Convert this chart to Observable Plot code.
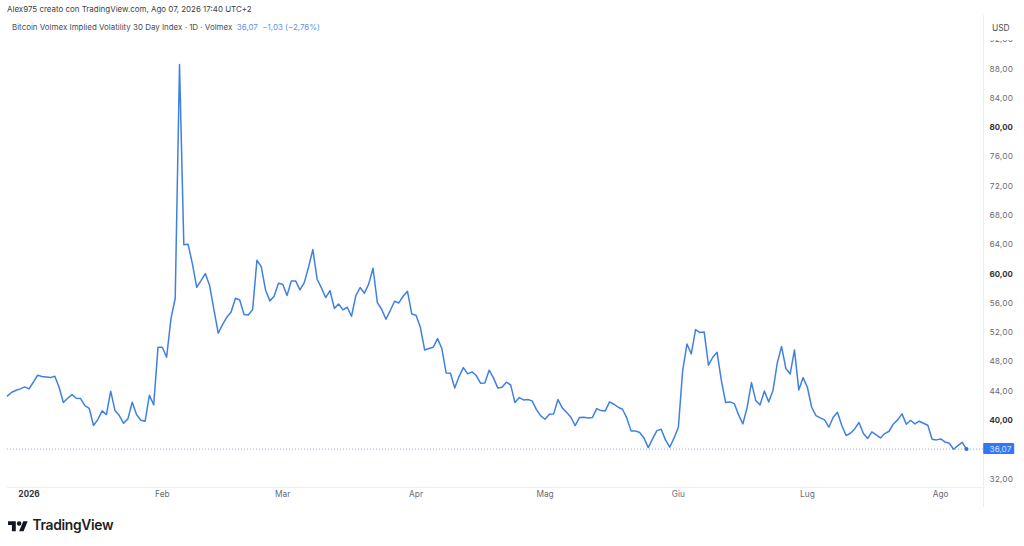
<!DOCTYPE html>
<html>
<head>
<meta charset="utf-8">
<script src="https://cdn.jsdelivr.net/npm/d3@7"></script>
<script src="https://cdn.jsdelivr.net/npm/@observablehq/plot@0.6"></script>
<style>
html,body{margin:0;padding:0;background:#fff;width:1024px;height:546px;overflow:hidden;font-family:Inter,"Noto Sans",sans-serif}
#chart{position:absolute;left:0;top:0}
.t{position:absolute;white-space:nowrap;line-height:1}
</style>
</head>
<body>
<div id="chart"></div>
<div class="t" style="left:7px;top:6px;font-size:7.95px;color:#3d3f47">Alex975 creato con TradingView.com, Ago 07, 2026 17:40 UTC+2</div>
<div class="t" style="left:12px;top:24px;font-size:7.95px;color:#4a4d57">Bitcoin Volmex Implied Volatility 30 Day Index · 1D · Volmex<span style="color:#5b93ea;margin-left:4.5px">36,07</span><span style="color:#5b93ea;margin-left:4.5px">−1,03 (−2,76%)</span></div>
<div class="t" style="left:984px;top:15px;width:40px;height:24.5px;background:#fff"><span class="t" style="left:8px;top:9px;font-size:8.4px;color:#4a4d57">USD</span></div>
<svg class="t" style="left:8px;top:518.5px" width="20" height="15.5" viewBox="0 0 36 28"><path fill="#131722" d="M14 22H7V11H0V4h14v18zM28 22h-8l7.5-18h8L28 22z"/><circle fill="#131722" cx="20" cy="8" r="4"/></svg>
<div class="t" style="left:32.5px;top:519px;font-size:13.8px;font-weight:600;letter-spacing:-0.3px;color:#1c1e26">TradingView</div>
<script>
const startDate = new Date(Date.UTC(2025, 11, 27));
const closes = [
43.34,43.84,44.11,44.30,44.57,44.30,45.20,46.16,45.98,45.93,45.84,46.03,44.52,42.43,43.02,43.52,43.02,42.97,42.02,41.65,
39.29,40.10,41.29,40.79,43.98,41.33,40.65,39.60,40.20,42.47,40.79,40.01,39.88,43.43,42.11,49.99,49.99,48.62,53.86,56.68,
88.60,64.00,64.05,61.37,58.18,59.09,60.05,58.41,55.13,51.90,53.08,54.09,54.81,56.68,56.45,54.45,54.40,55.13,61.87,61.00,
57.82,56.32,56.95,58.73,58.59,57.05,59.05,59.05,57.82,58.82,60.92,63.33,59.28,58.09,56.77,57.73,55.30,55.90,
55.09,55.45,54.22,57.05,58.14,57.36,58.64,60.78,56.09,55.18,53.81,55.00,56.27,56.04,56.95,57.64,54.54,54.36,52.72,49.62,
49.81,49.99,51.17,49.81,46.48,46.44,44.43,45.98,47.21,46.34,46.62,46.12,45.07,45.11,46.85,45.80,44.43,44.52,45.21,44.84,
42.43,43.11,42.79,42.84,42.66,41.47,40.61,40.15,40.83,40.88,42.84,41.70,41.11,40.42,39.29,40.38,40.42,40.33,40.38,41.61,
41.33,41.29,42.52,42.20,41.79,41.52,40.33,38.56,38.56,38.33,37.60,36.28,37.46,38.60,38.79,37.33,36.33,37.60,39.06,
46.80,50.44,49.08,52.40,51.99,52.08,47.53,48.62,49.30,45.43,42.43,42.52,42.29,40.74,39.51,41.79,45.16,42.70,42.11,44.02,
42.52,44.07,47.85,50.08,47.07,46.34,49.62,44.16,45.84,44.52,41.79,40.65,40.33,40.06,39.06,40.42,41.11,39.29,37.92,38.24,
38.83,39.70,38.24,37.51,38.42,38.01,37.60,38.19,38.51,39.51,40.06,40.88,39.47,40.01,39.51,39.88,39.60,39.33,37.42,37.33,
37.46,37.05,36.87,36.05,36.55,37.00,36.07
];
const yTicks = [32,36,44,48,52,56,64,68,72,76,84,88,92];
const yTicksBold = [40,60,80];
const monthTicks = [[2026,1,"Feb"],[2026,2,"Mar"],[2026,3,"Apr"],[2026,4,"Mag"],[2026,5,"Giu"],[2026,6,"Lug"],[2026,7,"Ago"]];
const yearTick = new Date(Date.UTC(2026,0,1));
const lastClose = "36,07";

const series = closes.map((v,i)=>({date:d3.utcDay.offset(startDate,i),value:v}));
const last = series[series.length-1];
const monthDates = monthTicks.map(d=>new Date(Date.UTC(d[0],d[1],1)));
const monthNames = new Map(monthDates.map((d,i)=>[+d,monthTicks[i][2]]));
const fmt = d=>d.toFixed(2).replace(".",",");
const blue = "#3f80e2";
const grey = "#686b76";

const chart = Plot.plot({
  width:1024,height:546,
  marginLeft:7,marginRight:41,marginTop:15,marginBottom:59,
  style:{background:"#fff",fontFamily:"Inter,'Noto Sans',sans-serif"},
  x:{type:"utc",domain:[startDate,last.date],range:[7,966]},
  y:{domain:[32,88],range:[478.4,68.5]},
  marks:[
    Plot.frame({anchor:"bottom",stroke:"#eceef2"}),
    Plot.frame({anchor:"right",stroke:"#eceef2",insetBottom:-19}),
    Plot.ruleY([last.value],{stroke:blue,strokeWidth:0.8,strokeDasharray:"1 2",strokeOpacity:0.75}),
    Plot.line(series,{x:"date",y:"value",stroke:blue,strokeWidth:1.5,curve:"linear"}),
    Plot.dot([last],{x:"date",y:"value",r:2,fill:"#2f6fdc"}),
    Plot.axisY({anchor:"right",ticks:yTicks,tickFormat:fmt,tickSize:0,tickPadding:6,label:null,fontSize:8.2,fill:grey}),
    Plot.axisY({anchor:"right",ticks:yTicksBold,tickFormat:fmt,tickSize:0,tickPadding:6,label:null,fontSize:8.2,fontWeight:700,fill:"#33353d"}),
    Plot.axisX({ticks:monthDates,tickFormat:d=>monthNames.get(+d),tickSize:0,tickPadding:4,label:null,fontSize:8.3,fill:grey}),
    Plot.axisX({ticks:[yearTick],tickFormat:d=>String(d.getUTCFullYear()),tickSize:0,tickPadding:4,label:null,fontSize:8.3,fontWeight:700,fill:"#33353d"}),
    Plot.rect([last],{x1:d=>d3.utcHour.offset(d.date,96),x2:d=>d3.utcHour.offset(d.date,269),y1:d=>d.value-0.75,y2:d=>d.value+0.75,fill:"#3178f2",rx:1}),
    Plot.text([last],{x:d=>d3.utcHour.offset(d.date,129),y:"value",text:()=>lastClose,textAnchor:"start",fill:"#cfe0ff",fontSize:8.2})
  ]
});
document.getElementById("chart").appendChild(chart);
</script>
</body>
</html>
